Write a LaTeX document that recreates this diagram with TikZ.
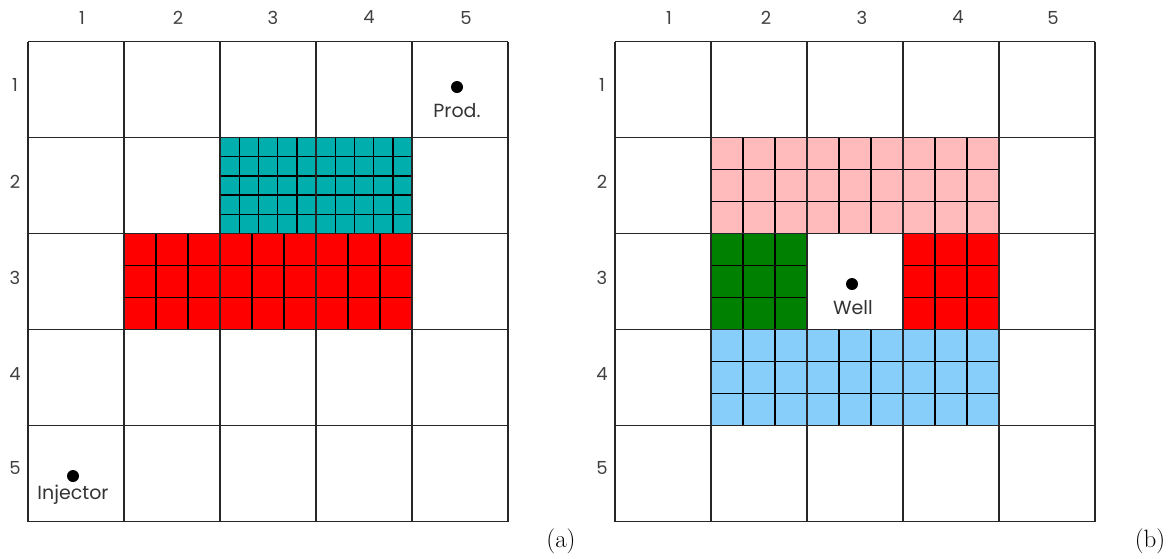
\documentclass[tikz,border=0pt]{standalone}
\usepackage{fontspec}
\newfontfamily\labfont{Poppins}
\definecolor{teal1}{RGB}{0,174,174}
\definecolor{red1}{RGB}{255,0,0}
\definecolor{pink1}{RGB}{255,187,187}
\definecolor{green1}{RGB}{0,128,0}
\definecolor{blue1}{RGB}{135,206,250}
\tikzset{
  coarse/.style={line width=1.7pt, draw=black!85},
  fine/.style={line width=1.4pt, draw=black},
  lbl/.style={font=\labfont\fontsize{18}{21}\selectfont, text=black!75, inner sep=0pt},
  welltxt/.style={font=\labfont\fontsize{19}{22}\selectfont, text=black!80, inner sep=0pt},
  welldot/.style={circle, fill=black, inner sep=0pt, minimum size=12pt},
  panel/.style={font=\fontsize{25}{28}\selectfont, inner sep=0pt}
}
% #1 colour, #2 x1, #3 y1, #4 x2, #5 y2, #6 nx, #7 ny
\newcommand\finegrid[7]{%
  \fill[#1] (#2,#3) rectangle (#4,#5);
  \foreach \i in {0,...,#6}{\draw[fine] ({#2+(#4-#2)*\i/#6},#3) -- ({#2+(#4-#2)*\i/#6},#5);}
  \foreach \j in {0,...,#7}{\draw[fine] (#2,{#3+(#5-#3)*\j/#7}) -- (#4,{#3+(#5-#3)*\j/#7});}
}
% coarse 5x5 grid starting at #1,#2 with cell 96
\newcommand\coarsegrid[2]{%
  \foreach \k in {0,...,5}{
    \draw[coarse] ({#1+96*\k},#2) -- ({#1+96*\k},{#2+480});
    \draw[coarse] (#1,{#2+96*\k}) -- ({#1+480},{#2+96*\k});
  }
}
\begin{document}
\begin{tikzpicture}[x=1pt,y=-1pt]
\useasboundingbox (0,0) rectangle (1171,558);
% ---------- panel (a) ----------
\finegrid{teal1}{220}{137.5}{412}{233.5}{10}{5}
\finegrid{red1}{124}{233.5}{412}{329.5}{9}{3}
\coarsegrid{28}{41.5}
\foreach \c/\x in {1/82,2/178,3/273,4/369,5/466}{
  \node[lbl] (ca\c) at (\x,17.5) {\c};
}
\foreach \r/\y in {1/85,2/182,3/278,4/374,5/468}{
  \node[lbl] (ra\r) at (15,\y) {\r};
}
\node[welldot] (prod) at (457,87) {};
\node[welltxt] (prodl) at (457,111) {Prod.};
\node[welldot] (inj) at (73,476) {};
\node[welltxt] (injl) at (73,495) {Injector};
\node[panel] (pa) at (561,541) {(a)};
% ---------- panel (b) ----------
\finegrid{pink1}{711}{137.5}{999}{233.5}{9}{3}
\finegrid{green1}{711}{233.5}{807}{329.5}{3}{3}
\finegrid{red1}{903}{233.5}{999}{329.5}{3}{3}
\finegrid{blue1}{711}{329.5}{999}{425.5}{9}{3}
\coarsegrid{615}{41.5}
\foreach \c/\x in {1/669,2/766,3/862,4/958,5/1053}{
  \node[lbl] (cb\c) at (\x,17.5) {\c};
}
\foreach \r/\y in {1/85,2/182,3/278,4/374,5/468}{
  \node[lbl] (rb\r) at (602,\y) {\r};
}
\node[welldot] (well) at (852,284) {};
\node[welltxt] (welll) at (853,308) {Well};
\node[panel] (pb) at (1150,541) {(b)};
\end{tikzpicture}
\end{document}
